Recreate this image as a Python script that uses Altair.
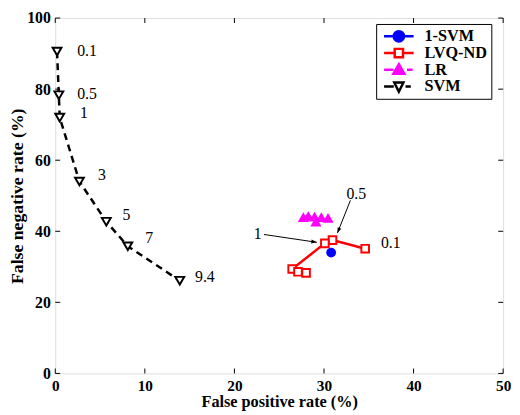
import altair as alt
import pandas as pd
import numpy as np

# ---------------- data ----------------
x_ticks = [0, 10, 20, 30, 40, 50]
y_ticks = [0, 20, 40, 60, 80, 100]

series_names = ["1-SVM", "LVQ-ND", "LR", "SVM"]

svm_fp = [0.2, 0.4, 0.5, 2.7, 5.7, 8.1, 13.9]
svm_fn = [90.6, 78.3, 72.0, 54.0, 42.7, 35.8, 26.1]
svm_lab = ["0.1", "0.5", "1", "3", "5", "7", "9.4"]
svm_lab_fp = [3.55, 3.55, 3.2, 5.2, 7.95, 10.5, 16.7]
svm_lab_fn = [90.8, 78.7, 73.2, 55.7, 44.6, 38.1, 27.1]

lvq_fp = [34.6, 30.95, 30.1, 26.45, 27.1, 28.0]
lvq_fn = [35.1, 37.5, 36.6, 29.4, 28.6, 28.3]
lvq_lab = ["0.1", "0.5", "1"]
lvq_lab_fp = [37.45, 33.6, 22.6]
lvq_lab_fn = [36.8, 50.6, 39.1]
arrow_from_fp = [23.3, 32.95]
arrow_from_fn = [39.1, 48.7]
arrow_to_fp = [29.2, 31.5]
arrow_to_fn = [36.9, 39.5]

one_svm_fp = [30.8]
one_svm_fn = [34.0]

lr_fp = [27.7, 28.25, 28.95, 29.7, 30.45, 29.1]
lr_fn = [44.0, 44.3, 44.1, 44.0, 43.8, 42.7]

# ---------------- layout ----------------
W, H = 455, 361
FONT = "'Liberation Serif', 'Times New Roman', Times, serif"

xs = alt.Scale(domain=[0, 50], nice=False, zero=False)
ys = alt.Scale(domain=[0, 100], nice=False, zero=False)

xaxis = alt.Axis(values=x_ticks, title="False positive rate (%)", grid=False, ticks=False,
                 domain=False, labelFont=FONT, labelFontWeight="bold", labelFontSize=15.5,
                 labelColor="black", labelPadding=5, titleFont=FONT, titleFontWeight="bold",
                 titleFontSize=16.5, titleColor="black", titlePadding=0, labelFlush=False)
yaxis = alt.Axis(values=y_ticks, title="False negative rate (%)", grid=False, ticks=False,
                 domain=False, labelFont=FONT, labelFontWeight="bold", labelFontSize=16,
                 labelColor="black", labelPadding=5, titleFont=FONT, titleFontWeight="bold",
                 titleFontSize=18, titleColor="black", titlePadding=0, labelFlush=False)


def X(f):
    return alt.X(f"{f}:Q", scale=xs, axis=xaxis)


def Y(f):
    return alt.Y(f"{f}:Q", scale=ys, axis=yaxis)


svm_df = pd.DataFrame({"fp": svm_fp, "fn": svm_fn, "series": "SVM"})
lvq_df = pd.DataFrame({"fp": lvq_fp, "fn": lvq_fn, "series": "LVQ-ND"})
one_df = pd.DataFrame({"fp": one_svm_fp, "fn": one_svm_fn, "series": "1-SVM"})
lr_df = pd.DataFrame({"fp": lr_fp, "fn": lr_fn, "series": "LR"})
lab_df = pd.DataFrame({"fp": svm_lab_fp + lvq_lab_fp, "fn": svm_lab_fn + lvq_lab_fn,
                       "lab": svm_lab + lvq_lab})

sx, sy = W / 50.0, H / 100.0
arr_df = pd.DataFrame({"fp": arrow_from_fp, "fn": arrow_from_fn,
                       "fp2": arrow_to_fp, "fn2": arrow_to_fn})
arr_df["ang"] = [float((np.degrees(np.arctan2((b - a) * sx, (d - c) * sy)) + 360) % 360)
                 for a, b, c, d in zip(arrow_from_fp, arrow_to_fp, arrow_from_fn, arrow_to_fn)]

xt_df = pd.DataFrame({"t": x_ticks})
yt_df = pd.DataFrame({"t": y_ticks})

base_x = alt.Chart(xt_df)
ticks = [
    base_x.mark_rule(color="black", strokeWidth=1).encode(x=X("t"), y=alt.value(H), y2=alt.value(H - 5)),
    base_x.mark_rule(color="black", strokeWidth=1).encode(x=X("t"), y=alt.value(0), y2=alt.value(5)),
    alt.Chart(yt_df).mark_rule(color="black", strokeWidth=1).encode(y=Y("t"), x=alt.value(0), x2=alt.value(5)),
    alt.Chart(yt_df).mark_rule(color="black", strokeWidth=1).encode(y=Y("t"), x=alt.value(W), x2=alt.value(W - 5)),
]

svm_line = alt.Chart(svm_df).mark_line(color="black", strokeWidth=2.5, strokeDash=[7, 5]).encode(
    x=X("fp"), y=Y("fn"), order=alt.Order("fn:Q", sort="descending"))
svm_pts = alt.Chart(svm_df).mark_point(shape="triangle-down", size=80, filled=True, fill="white",
                                       stroke="black", strokeWidth=2, opacity=1).encode(x=X("fp"), y=Y("fn"))

one_pts = alt.Chart(one_df).mark_point(shape="circle", size=100, filled=True, color="#0000ff",
                                       opacity=1).encode(x=X("fp"), y=Y("fn"))

lvq_df["o"] = range(len(lvq_df))
lvq_line = alt.Chart(lvq_df).mark_line(color="#ff0000", strokeWidth=2.5).encode(
    x=X("fp"), y=Y("fn"), order="o:Q")
lvq_pts = alt.Chart(lvq_df).mark_point(shape="square", size=60, filled=True, fill="white",
                                       stroke="#ff0000", strokeWidth=2, opacity=1).encode(x=X("fp"), y=Y("fn"))

lr_pts = alt.Chart(lr_df).mark_point(shape="triangle-up", size=130, filled=True, color="#ff00ff",
                                     opacity=1).encode(x=X("fp"), y=Y("fn"))

arrows = alt.Chart(arr_df).mark_rule(color="black", strokeWidth=1).encode(
    x=X("fp"), y=Y("fn"), x2="fp2:Q", y2="fn2:Q")
heads = alt.Chart(arr_df).mark_point(shape="M0,0L-0.5,1.4L0.5,1.4Z", size=64, filled=True,
                                     color="black", opacity=1).encode(
    x=alt.X("fp2:Q", scale=xs, axis=xaxis), y=alt.Y("fn2:Q", scale=ys, axis=yaxis),
    angle=alt.Angle("ang:Q", scale=None))

texts = alt.Chart(lab_df).mark_text(font=FONT, fontSize=16, color="black", align="center",
                                    baseline="middle").encode(x=X("fp"), y=Y("fn"), text="lab:N")

# legend (native legend driven by an invisible layer); symbol paths in unit space
leg_df = pd.concat([one_df, lvq_df[["fp", "fn", "series"]], lr_df, svm_df], ignore_index=True)
legend_paths = [
    "M-0.83,0H1.17M0.52,0A0.35,0.35 0 1 1 -0.18,0A0.35,0.35 0 1 1 0.52,0Z",
    "M-0.83,0H-0.11M0.45,0H1.17M-0.11,-0.28H0.45V0.28H-0.11Z",
    "M-0.83,0H-0.2M0.72,0H1.1M0.17,-0.38L0.54,0.27H-0.2Z",
    "M-0.83,0H-0.17M0.62,0H0.98M-0.14,-0.27H0.48L0.17,0.36Z",
]
leg = alt.Legend(orient="none", legendX=326, legendY=6, title=None, padding=4,
                 strokeColor="black", fillColor="white", labelFont=FONT, labelFontWeight="bold",
                 labelFontSize=16.5, labelColor="black", labelOffset=12, symbolSize=900,
                 symbolStrokeWidth=2.5, rowPadding=0, clipHeight=17, symbolOpacity=1, cornerRadius=0)
legend_layer = alt.Chart(leg_df).mark_point(filled=True, opacity=0).encode(
    x=X("fp"), y=Y("fn"),
    shape=alt.Shape("series:N", scale=alt.Scale(domain=series_names, range=legend_paths), legend=leg),
    stroke=alt.Stroke("series:N", scale=alt.Scale(domain=series_names,
                                                  range=["#0000ff", "#ff0000", "#ff00ff", "black"]), legend=leg),
    fill=alt.Fill("series:N", scale=alt.Scale(domain=series_names,
                                              range=["#0000ff", "white", "#ff00ff", "white"]), legend=leg),
)

chart = alt.layer(
    *ticks, svm_line, svm_pts, one_pts, lvq_line, lvq_pts, lr_pts, arrows, heads, texts, legend_layer
).properties(
    width=W, height=H,
    autosize=alt.AutoSizeParams(type="none"),
    padding={"left": 48, "top": 7, "right": 9, "bottom": 39},
).configure_view(stroke="black", strokeWidth=1).configure(background="white")

chart.save("out.html", embed_options={"renderer": "svg", "actions": False})
